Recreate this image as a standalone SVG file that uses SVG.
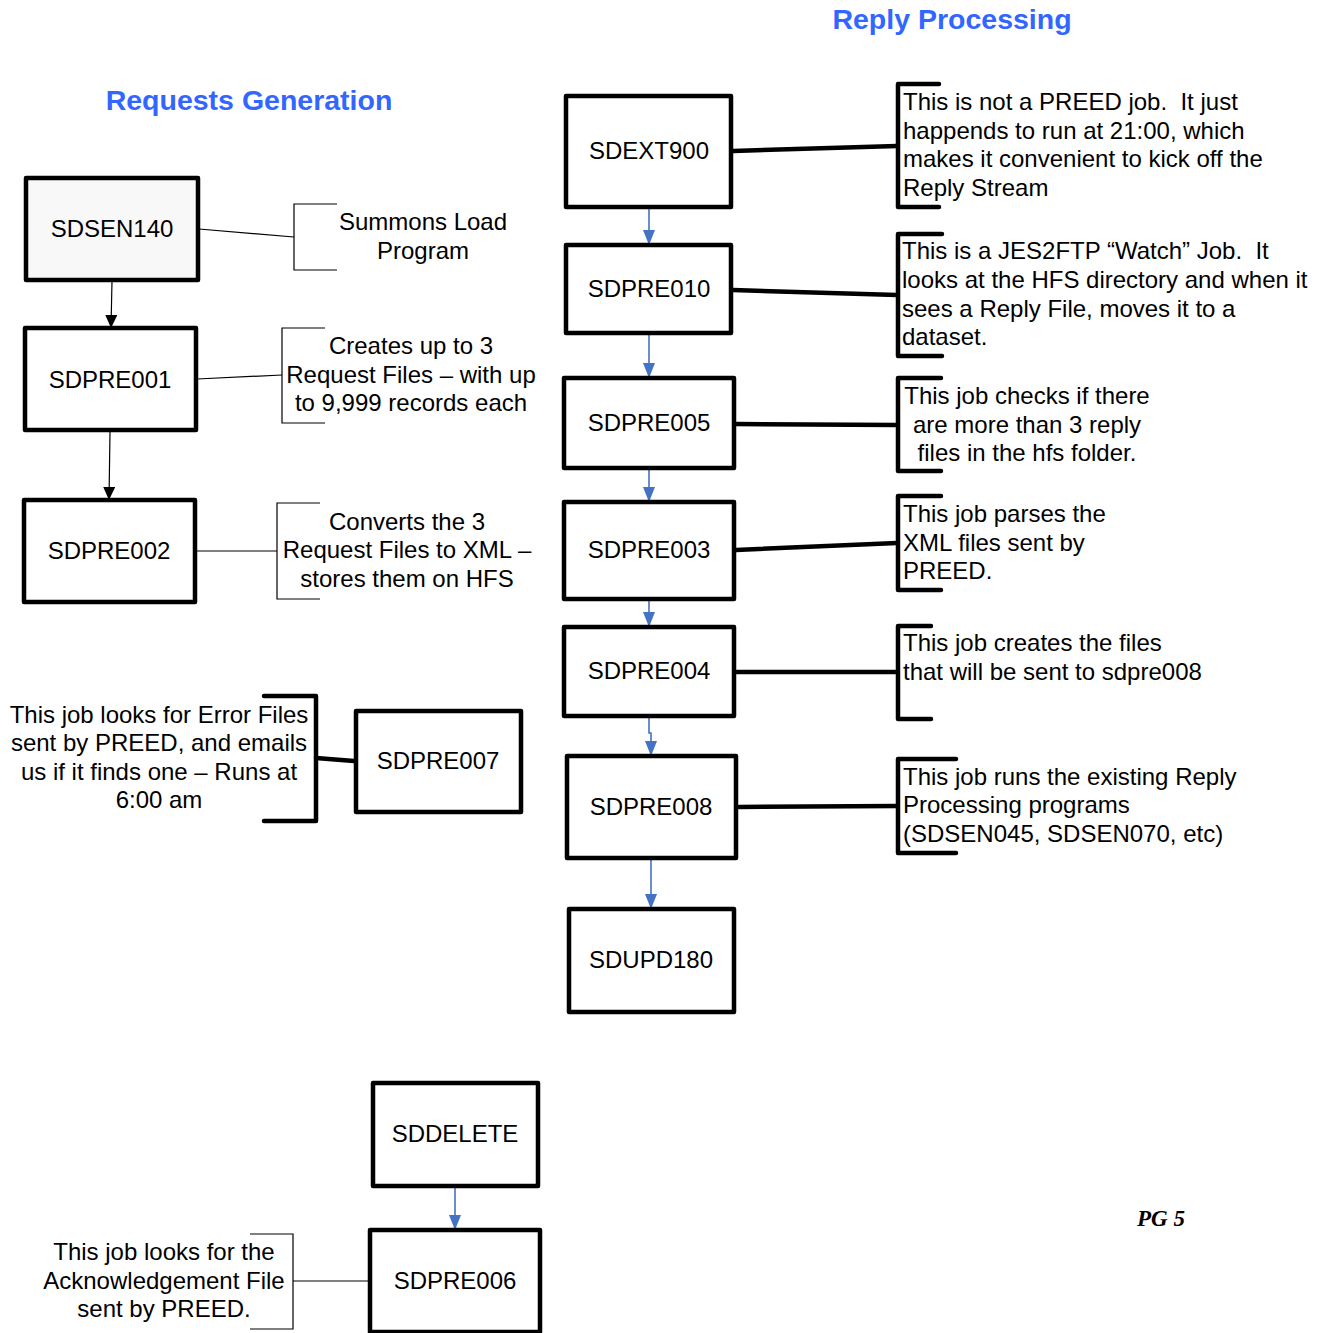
<svg xmlns="http://www.w3.org/2000/svg" width="1326" height="1333" viewBox="0 0 1326 1333">
  <style>
    .box { fill: #ffffff; stroke: #000000; stroke-width: 4.5; stroke-linejoin: round; }
    .lbl { font-family: "Liberation Sans", Arial, sans-serif; font-size: 24px; fill: #000000; text-anchor: middle; }
    .note { font-family: "Liberation Sans", Arial, sans-serif; font-size: 24px; fill: #000000; }
    .ctr { text-anchor: middle; }
    .title { font-family: "Liberation Sans", Arial, sans-serif; font-size: 28.5px; font-weight: bold; fill: #3366ff; text-anchor: middle; }
    .thin { fill: none; stroke: #000000; stroke-width: 1.2; }
    .thick { fill: none; stroke: #000000; stroke-width: 4.5; stroke-linecap: round; stroke-linejoin: round; }
    .flow { fill: none; stroke: #4472c4; stroke-width: 1.6; marker-end: url(#arrBlue); }
    .flowk { fill: none; stroke: #000000; stroke-width: 1.2; marker-end: url(#arrBlack); }
  </style>
  <defs>
    <!-- filled triangular heads, tip at the path end -->
    <marker id="arrBlue" markerUnits="userSpaceOnUse" markerWidth="15" markerHeight="12" viewBox="0 0 15 12" refX="15" refY="6" orient="auto">
      <path d="M0,0 L15,6 L0,12 Z" fill="#4472c4"/>
    </marker>
    <marker id="arrBlack" markerUnits="userSpaceOnUse" markerWidth="13" markerHeight="12" viewBox="0 0 13 12" refX="13" refY="6" orient="auto">
      <path d="M0,0 L13,6 L0,12 Z" fill="#000000"/>
    </marker>
  </defs>

  <!-- section headings -->
  <text class="title" x="249" y="110">Requests Generation</text>
  <text class="title" x="952" y="29">Reply Processing</text>

  <!-- connectors -->
  <g id="connectors">
    <!-- request generation chain -->
    <path class="flowk" d="M112,281 L111,328"/>
    <path class="flowk" d="M110,432 L109,500"/>

    <!-- reply processing chain -->
    <path class="flow" d="M649,208 L649,245"/>
    <path class="flow" d="M649,334 L649,378"/>
    <path class="flow" d="M649,469 L649,502"/>
    <path class="flow" d="M649,600 L649,627"/>
    <path class="flow" d="M649,717 L649,733 L651,733 L651,756"/>
    <path class="flow" d="M651,859 L651,909"/>

    <!-- delete chain -->
    <path class="flow" d="M455,1187 L455,1230"/>

    <!-- note leaders, left side -->
    <path class="thin" d="M199,229 L294,237"/>
    <path class="thin" d="M197,379 L282,375"/>
    <path class="thin" d="M196,551 L277,551"/>
    <path class="thick" d="M316,758 L354,761"/>
    <path class="thin" d="M293,1281 L370,1281"/>

    <!-- note leaders, right side -->
    <path class="thick" d="M733,151 L897,146"/>
    <path class="thick" d="M733,290 L897,295"/>
    <path class="thick" d="M736,424 L897,425"/>
    <path class="thick" d="M736,550 L897,543"/>
    <path class="thick" d="M736,672 L897,672"/>
    <path class="thick" d="M739,807 L897,806"/>
  </g>

  <!-- request generation jobs -->
  <g id="SDSEN140">
    <rect class="box" x="26" y="178" width="172" height="102" style="fill:#f8f8f8"/>
    <text class="lbl" x="112" y="237">SDSEN140</text>
  </g>
  <g id="SDPRE001">
    <rect class="box" x="25" y="328" width="171" height="102"/>
    <text class="lbl" x="110" y="388">SDPRE001</text>
  </g>
  <g id="SDPRE002">
    <rect class="box" x="24" y="500" width="171" height="102"/>
    <text class="lbl" x="109" y="559">SDPRE002</text>
  </g>
  <g id="SDPRE007">
    <rect class="box" x="356" y="711" width="165" height="101"/>
    <text class="lbl" x="438" y="769">SDPRE007</text>
  </g>
  <g id="SDDELETE">
    <rect class="box" x="373" y="1083" width="165" height="103"/>
    <text class="lbl" x="455" y="1142">SDDELETE</text>
  </g>
  <g id="SDPRE006">
    <rect class="box" x="370" y="1230" width="170" height="102"/>
    <text class="lbl" x="455" y="1289">SDPRE006</text>
  </g>

  <!-- reply processing jobs -->
  <g id="SDEXT900">
    <rect class="box" x="566" y="96" width="165" height="111"/>
    <text class="lbl" x="649" y="159">SDEXT900</text>
  </g>
  <g id="SDPRE010">
    <rect class="box" x="566" y="245" width="165" height="88"/>
    <text class="lbl" x="649" y="297">SDPRE010</text>
  </g>
  <g id="SDPRE005">
    <rect class="box" x="564" y="378" width="170" height="90"/>
    <text class="lbl" x="649" y="431">SDPRE005</text>
  </g>
  <g id="SDPRE003">
    <rect class="box" x="564" y="502" width="170" height="97"/>
    <text class="lbl" x="649" y="558">SDPRE003</text>
  </g>
  <g id="SDPRE004">
    <rect class="box" x="564" y="627" width="170" height="89"/>
    <text class="lbl" x="649" y="679">SDPRE004</text>
  </g>
  <g id="SDPRE008">
    <rect class="box" x="567" y="756" width="169" height="102"/>
    <text class="lbl" x="651" y="815">SDPRE008</text>
  </g>
  <g id="SDUPD180">
    <rect class="box" x="569" y="909" width="165" height="103"/>
    <text class="lbl" x="651" y="968">SDUPD180</text>
  </g>

  <!-- annotations, request generation -->
  <g id="note-sdsen140">
    <path class="thin" d="M337,204 L294,204 L294,270 L337,270"/>
    <text class="note ctr" x="423" y="230">Summons Load</text>
    <text class="note ctr" x="423" y="259">Program</text>
  </g>
  <g id="note-sdpre001">
    <path class="thin" d="M325,328 L282,328 L282,423 L325,423"/>
    <text class="note ctr" x="411" y="354">Creates up to 3</text>
    <text class="note ctr" x="411" y="383">Request Files – with up</text>
    <text class="note ctr" x="411" y="411">to 9,999 records each</text>
  </g>
  <g id="note-sdpre002">
    <path class="thin" d="M320,503 L277,503 L277,599 L320,599"/>
    <text class="note ctr" x="407" y="530">Converts the 3</text>
    <text class="note ctr" x="407" y="558">Request Files to XML –</text>
    <text class="note ctr" x="407" y="587">stores them on HFS</text>
  </g>
  <g id="note-sdpre007">
    <path class="thick" d="M264,696 L316,696 L316,821 L264,821"/>
    <text class="note ctr" x="159" y="723">This job looks for Error Files</text>
    <text class="note ctr" x="159" y="751">sent by PREED, and emails</text>
    <text class="note ctr" x="159" y="780">us if it finds one – Runs at</text>
    <text class="note ctr" x="159" y="808">6:00 am</text>
  </g>
  <g id="note-sdpre006">
    <path class="thin" d="M250,1234 L293,1234 L293,1329 L250,1329"/>
    <text class="note ctr" x="164" y="1260">This job looks for the</text>
    <text class="note ctr" x="164" y="1289">Acknowledgement File</text>
    <text class="note ctr" x="164" y="1317">sent by PREED.</text>
  </g>

  <!-- annotations, reply processing -->
  <g id="note-sdext900">
    <path class="thick" d="M939,84 L898,84 L898,207 L939,207"/>
    <text class="note" x="903" y="110" xml:space="preserve">This is not a PREED job.  It just</text>
    <text class="note" x="903" y="139">happends to run at 21:00, which</text>
    <text class="note" x="903" y="167">makes it convenient to kick off the</text>
    <text class="note" x="903" y="196">Reply Stream</text>
  </g>
  <g id="note-sdpre010">
    <path class="thick" d="M942,234 L898,234 L898,356 L942,356"/>
    <text class="note" x="902" y="259" xml:space="preserve">This is a JES2FTP “Watch” Job.  It</text>
    <text class="note" x="902" y="288">looks at the HFS directory and when it</text>
    <text class="note" x="902" y="317">sees a Reply File, moves it to a</text>
    <text class="note" x="902" y="345">dataset.</text>
  </g>
  <g id="note-sdpre005">
    <path class="thick" d="M941,378 L898,378 L898,471 L941,471"/>
    <text class="note ctr" x="1027" y="404">This job checks if there</text>
    <text class="note ctr" x="1027" y="433">are more than 3 reply</text>
    <text class="note ctr" x="1027" y="461">files in the hfs folder.</text>
  </g>
  <g id="note-sdpre003">
    <path class="thick" d="M941,496 L898,496 L898,590 L941,590"/>
    <text class="note" x="903" y="522">This job parses the</text>
    <text class="note" x="903" y="551">XML files sent by</text>
    <text class="note" x="903" y="579">PREED.</text>
  </g>
  <g id="note-sdpre004">
    <path class="thick" d="M931,626 L898,626 L898,719 L931,719"/>
    <text class="note" x="903" y="651">This job creates the files</text>
    <text class="note" x="903" y="680">that will be sent to sdpre008</text>
  </g>
  <g id="note-sdpre008">
    <path class="thick" d="M956,759 L898,759 L898,853 L956,853"/>
    <text class="note" x="903" y="785">This job runs the existing Reply</text>
    <text class="note" x="903" y="813">Processing programs</text>
    <text class="note" x="903" y="842">(SDSEN045, SDSEN070, etc)</text>
  </g>

  <!-- page number -->
  <text x="1137" y="1226" style="font-family:'Liberation Serif','Times New Roman',serif;font-size:23px;font-weight:bold;font-style:italic;fill:#000">PG 5</text>
</svg>
